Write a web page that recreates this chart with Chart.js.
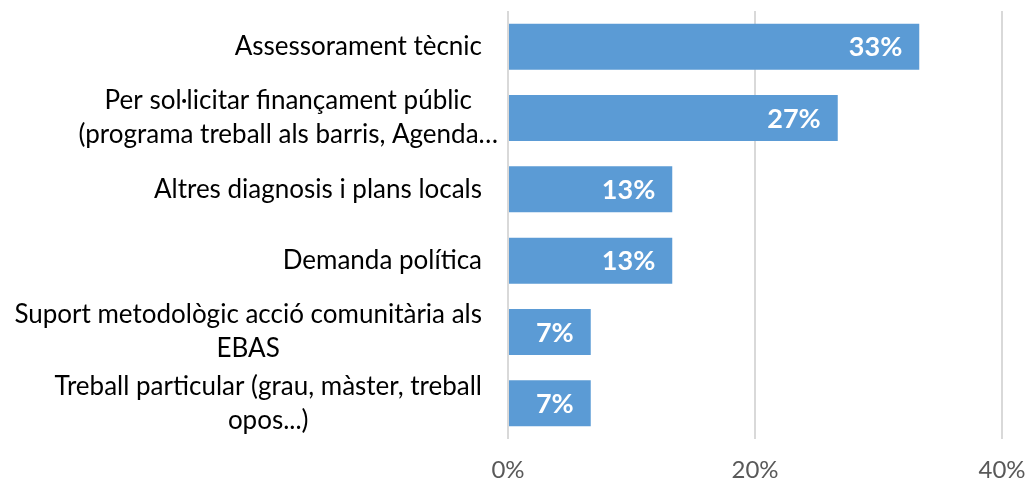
<!DOCTYPE html>
<html>
<head>
<meta charset="utf-8">
<script src="https://cdn.jsdelivr.net/npm/chart.js@4/dist/chart.umd.min.js"></script>
<style>
  html, body { margin: 0; padding: 0; background: #fff; }
  #wrap { width: 1026px; height: 479px; position: relative; }
</style>
</head>
<body>
<div id="wrap"><canvas id="chart"></canvas></div>
<script>
// category labels (one array per label, one string per line)
const categories = [
    ['Assessorament tècnic'],
    ['Per sol·licitar finançament públic', '(programa treball als barris, Agenda…'],
    ['Altres diagnosis i plans locals'],
    ['Demanda política'],
    ['Suport metodològic acció comunitària als', 'EBAS'],
    ['Treball particular (grau, màster, treball', 'opos...)']
];
const values = [33.3, 26.7, 13.3, 13.3, 6.7, 6.7];
const valueLabels = ['33%', '27%', '13%', '13%', '7%', '7%'];
const xTicks = [0, 20, 40];

const FONT = 'Lato, "Open Sans", sans-serif';

// draws category labels to the left of the plot and value labels inside the bars
const labelPlugin = {
    id: 'labelPlugin',
    afterDatasetsDraw(chart) {
        const ctx = chart.ctx;
        const yScale = chart.scales.y;
        const rightEdge = chart.chartArea.left - 26;
        const lineGap = 34;

        ctx.save();
        ctx.font = '26px ' + FONT;
        ctx.fillStyle = '#000000';
        ctx.textAlign = 'center';
        ctx.textBaseline = 'middle';
        categories.forEach((lines, i) => {
            const cy = yScale.getPixelForValue(i);
            // the truncated line (ending in …) overflows the label box like in the original
            const fitLines = lines.filter(l => !l.endsWith('…'));
            const maxW = Math.max(...fitLines.map(l => ctx.measureText(l).width));
            const cx = rightEdge - maxW / 2 - (fitLines.length < lines.length ? 10 : 0);
            const startY = cy - (lines.length - 1) * lineGap / 2;
            lines.forEach((line, j) => ctx.fillText(line, cx, startY + j * lineGap));
        });

        const meta = chart.getDatasetMeta(0);
        ctx.font = 'bold 27px ' + FONT;
        ctx.fillStyle = '#ffffff';
        ctx.textAlign = 'right';
        meta.data.forEach((bar, i) => {
            ctx.fillText(valueLabels[i], bar.x - 17, bar.y + 1);
        });
        ctx.restore();
    }
};

const ctx = document.getElementById('chart').getContext('2d');
new Chart(ctx, {
    type: 'bar',
    data: {
        labels: categories.map(c => c.join(' ')),
        datasets: [{
            data: values,
            backgroundColor: '#5B9BD5',
            borderWidth: 0,
            barPercentage: 0.645,
            categoryPercentage: 1
        }]
    },
    options: {
        indexAxis: 'y',
        responsive: true,
        maintainAspectRatio: false,
        animation: false,
        layout: { padding: { left: 508, right: 24, top: 11, bottom: 0 } },
        plugins: {
            legend: { display: false },
            tooltip: { enabled: false }
        },
        scales: {
            y: {
                display: false
            },
            x: {
                min: 0,
                max: 40,
                afterBuildTicks: scale => {
                    scale.ticks = xTicks.map(v => ({ value: v }));
                },
                afterFit: scale => {
                    scale.height = 40;
                    scale.paddingLeft = 0;
                    scale.paddingRight = 0;
                },
                grid: { color: '#d9d9d9', lineWidth: 2, drawTicks: false },
                border: { display: false },
                ticks: {
                    padding: 17,
                    color: '#595959',
                    font: { family: FONT, size: 24 },
                    callback: v => v + '%'
                }
            }
        }
    },
    plugins: [labelPlugin]
});
</script>
</body>
</html>
